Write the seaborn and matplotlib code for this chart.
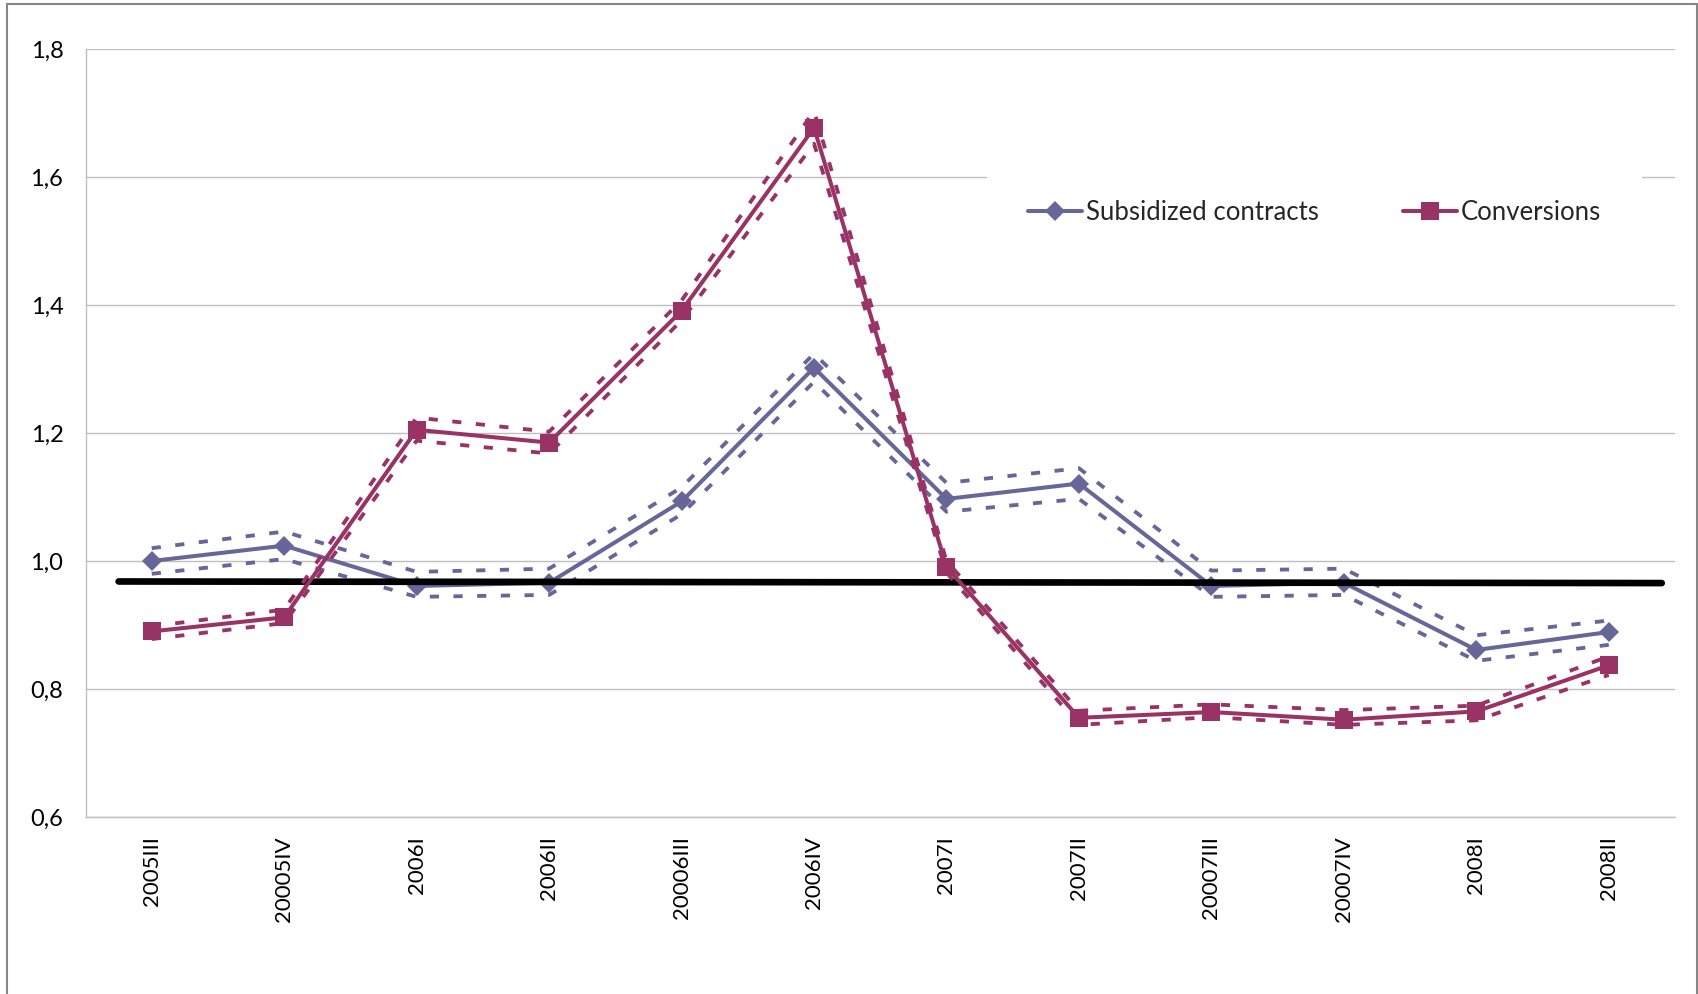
import numpy as np
import pandas as pd
import matplotlib
matplotlib.use("Agg")
import matplotlib.pyplot as plt
from matplotlib.patches import Rectangle
from matplotlib.lines import Line2D
from matplotlib.ticker import FuncFormatter
import seaborn as sns

# Quarters on the category axis
quarters = ["2005III", "20005IV", "2006I", "2006II", "20006III", "2006IV",
            "2007I", "2007II", "20007III", "20007IV", "2008I", "2008II"]

# Subsidized contracts: point estimate and band
subsidized = [1.000, 1.024, 0.961, 0.966, 1.093, 1.302,
              1.097, 1.121, 0.961, 0.966, 0.861, 0.889]
subsidized_hi = [1.020, 1.046, 0.983, 0.988, 1.115, 1.324,
                 1.122, 1.145, 0.985, 0.988, 0.884, 0.907]
subsidized_lo = [0.980, 1.003, 0.944, 0.947, 1.073, 1.280,
                 1.077, 1.097, 0.944, 0.947, 0.844, 0.869]

# Conversions: point estimate and band
conversions = [0.890, 0.912, 1.205, 1.185, 1.391, 1.677,
               0.991, 0.755, 0.764, 0.752, 0.765, 0.837]
conversions_hi = [0.898, 0.924, 1.224, 1.202, 1.407, 1.703,
                  1.000, 0.766, 0.776, 0.767, 0.774, 0.851]
conversions_lo = [0.878, 0.903, 1.188, 1.168, 1.376, 1.652,
                  0.982, 0.744, 0.756, 0.744, 0.751, 0.822]

# Reference level drawn as a thick black line
reference_x = [-0.25, 11.4]
reference_y = [0.968, 0.9655]

y_ticks = [0.6, 0.8, 1.0, 1.2, 1.4, 1.6, 1.8]

BLUE = "#666699"
RED = "#993366"
GRID = "#bfbfbf"

sns.set_style("white")
plt.rcParams["font.family"] = ["Lato", "DejaVu Sans"]

W, H = 1698, 994
fig = plt.figure(figsize=(W / 100, H / 100), dpi=100)
left, right, top, bottom = 85.5, 1675, 49, 817
ax = fig.add_axes([left / W, 1 - bottom / H, (right - left) / W, (bottom - top) / H])

x = np.arange(len(quarters))
df = pd.DataFrame({
    "x": x,
    "sub": subsidized, "sub_hi": subsidized_hi, "sub_lo": subsidized_lo,
    "conv": conversions, "conv_hi": conversions_hi, "conv_lo": conversions_lo,
})

dash = (0, (2.4, 3.8))
LW_MAIN = 2.9
LW_BAND = 2.75
MS_D = 10.5
MS_S = 13.0

# Subsidized contracts
for col in ["sub_hi", "sub_lo"]:
    sns.lineplot(data=df, x="x", y=col, ax=ax, color=BLUE, linewidth=LW_BAND,
                 linestyle=dash, zorder=3, legend=False)
sns.lineplot(data=df, x="x", y="sub", ax=ax, color=BLUE, linewidth=LW_MAIN,
             marker="D", markersize=MS_D, markeredgewidth=0, zorder=4, legend=False)

# Reference level
sns.lineplot(x=reference_x, y=reference_y, ax=ax, color="black",
             linewidth=4.8, zorder=5, legend=False)

# Conversions
for col in ["conv_hi", "conv_lo"]:
    sns.lineplot(data=df, x="x", y=col, ax=ax, color=RED, linewidth=LW_BAND,
                 linestyle=dash, zorder=6, legend=False)
sns.lineplot(data=df, x="x", y="conv", ax=ax, color=RED, linewidth=LW_MAIN,
             marker="s", markersize=MS_S, markeredgewidth=0, zorder=7, legend=False)

ax.set_xlim(-0.5, len(quarters) - 0.5)
ax.set_ylim(0.6, 1.8)
ax.set_yticks(y_ticks)
ax.yaxis.set_major_formatter(FuncFormatter(lambda v, p: f"{v:.1f}".replace(".", ",")))
ax.set_xticks(x)
ax.set_xticklabels(quarters, rotation=90, va="top", ha="center")
ax.set_xlabel("")
ax.set_ylabel("")

ax.yaxis.grid(True, color=GRID, linewidth=1.0)
ax.xaxis.grid(False)
ax.set_axisbelow(True)
for s in ["top", "right"]:
    ax.spines[s].set_visible(False)
for s in ["left", "bottom"]:
    ax.spines[s].set_color(GRID)
    ax.spines[s].set_linewidth(1.0)

ax.tick_params(axis="y", length=0, pad=16, labelsize=17, labelcolor="black")
ax.tick_params(axis="x", length=0, pad=14, labelsize=16, labelcolor="black")

handles = [
    Line2D([], [], color=BLUE, linewidth=LW_MAIN, marker="D", markersize=MS_D, markeredgewidth=0),
    Line2D([], [], color=RED, linewidth=LW_MAIN, marker="s", markersize=MS_S, markeredgewidth=0),
]
leg = ax.legend(handles, ["Subsidized contracts", "Conversions"], ncol=2,
                loc="center", bbox_to_anchor=(1314.5 / W, 1 - 212 / H),
                bbox_transform=fig.transFigure, frameon=True, facecolor="white",
                edgecolor="none", framealpha=1.0, fancybox=False, fontsize=18.5,
                handlelength=2.1, handletextpad=0.15, columnspacing=3.3,
                borderpad=1.6)
leg.set_zorder(10)

# Outer chart border
fig.add_artist(Rectangle((7 / W, -0.05), (1697 - 7) / W, 1.05 - 4 / H,
                         transform=fig.transFigure, fill=False,
                         edgecolor="#868686", linewidth=1.5))

fig.savefig("out.png", dpi=100, facecolor="white")
